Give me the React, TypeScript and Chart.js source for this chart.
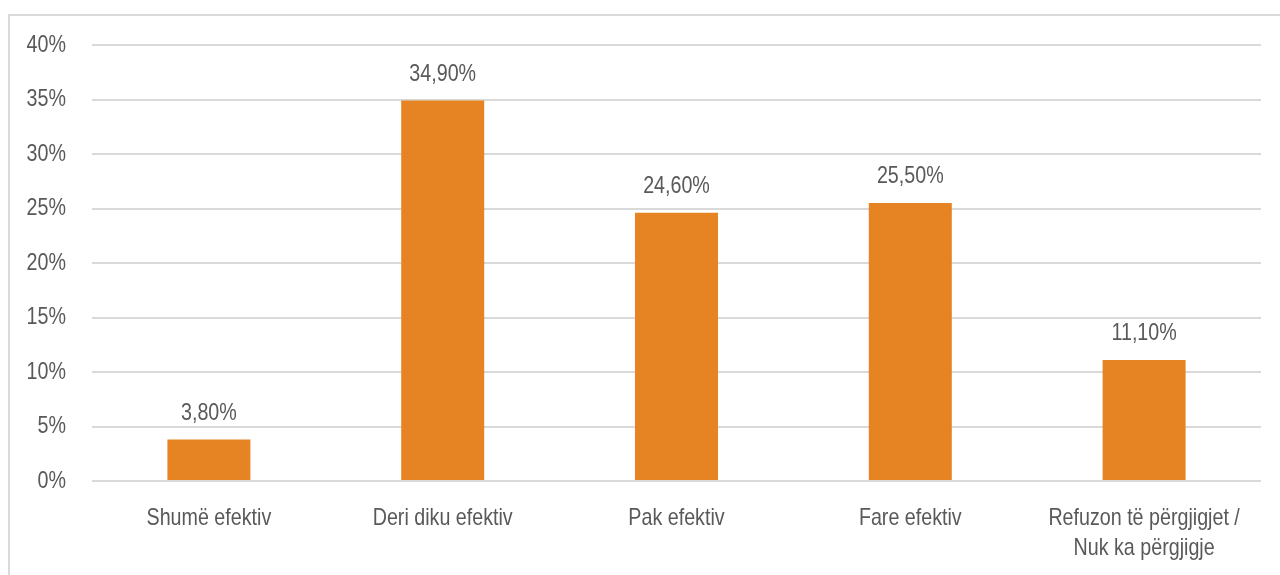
import React, { useEffect, useRef } from "react";
import { Chart, registerables } from "chart.js";

Chart.register(...registerables);

const categories: string[][] = [
  ["Shumë efektiv"],
  ["Deri diku efektiv"],
  ["Pak efektiv"],
  ["Fare efektiv"],
  ["Refuzon të përgjigjet /", "Nuk ka përgjigje"],
];
const values = [3.8, 34.9, 24.6, 25.5, 11.1];
const yTicks = [0, 5, 10, 15, 20, 25, 30, 35, 40];

const FONT = "'Liberation Sans', Arial, sans-serif";
const TEXT = "#595959";
const SX = 0.82; // narrow-width emulation

function narrowText(ctx: any, txt: string, x: number, y: number, align: string) {
  ctx.save();
  ctx.translate(x, y);
  ctx.scale(SX, 1);
  ctx.textAlign = align;
  ctx.fillText(txt, 0, 0);
  ctx.restore();
}

const labelPlugin = {
  id: "narrowLabels",
  afterDraw(chart: any) {
    const ctx = chart.ctx;
    const meta = chart.getDatasetMeta(0);
    const xs = chart.scales.x;
    const ys = chart.scales.y;
    ctx.save();
    ctx.font = `24px ${FONT}`;
    ctx.fillStyle = TEXT;
    // value labels
    ctx.textBaseline = "alphabetic";
    meta.data.forEach((bar: any, i: number) => {
      const txt = values[i].toFixed(2).replace(".", ",") + "%";
      narrowText(ctx, txt, bar.x, bar.y - 20, "center");
    });
    // y tick labels
    ctx.textBaseline = "middle";
    yTicks.forEach((v) => {
      narrowText(ctx, v + "%", ys.right - 26, ys.getPixelForValue(v), "right");
    });
    // x tick labels
    categories.forEach((lines, i) => {
      const x = xs.getPixelForTick(i);
      lines.forEach((ln, k) => {
        narrowText(ctx, ln, x, xs.top + 37 + k * 30, "center");
      });
    });
    ctx.restore();
  },
};

export default function App() {
  const ref = useRef<HTMLCanvasElement>(null);
  useEffect(() => {
    if (!ref.current) return;
    const chart = new Chart(ref.current, {
      type: "bar",
      data: {
        labels: categories.map((c) => c.join(" ")),
        datasets: [
          {
            data: values,
            backgroundColor: "#E68423",
            barPercentage: 0.355,
            categoryPercentage: 1,
          },
        ],
      },
      options: {
        animation: false,
        responsive: false,
        maintainAspectRatio: false,
        layout: { padding: { left: 0, right: 19, top: 45, bottom: 0 } },
        plugins: { legend: { display: false }, tooltip: { enabled: false } },
        scales: {
          x: {
            grid: { display: false },
            border: { display: false },
            ticks: { display: false },
            afterFit: (s: any) => {
              s.height = 94;
              s.paddingLeft = 0;
              s.paddingRight = 0;
            },
          },
          y: {
            min: 0,
            max: 40,
            afterBuildTicks: (s: any) => {
              s.ticks = yTicks.map((v) => ({ value: v }));
            },
            grid: { color: "#d9d9d9", lineWidth: 2, drawTicks: false },
            border: { display: false },
            ticks: { display: false },
            afterFit: (s: any) => {
              s.width = 92;
              s.paddingTop = 0;
              s.paddingBottom = 0;
            },
          },
        },
      },
      plugins: [labelPlugin],
    });
    return () => chart.destroy();
  }, []);
  return (
    <>
      <div
        style={{
          position: "fixed",
          left: 8,
          top: 14,
          width: 1300,
          height: 600,
          border: "2px solid #dadada",
          background: "#fff",
        }}
      />
      <canvas
        ref={ref}
        width={1280}
        height={575}
        style={{ position: "fixed", left: 0, top: 0, width: 1280, height: 575 }}
      />
    </>
  );
}
